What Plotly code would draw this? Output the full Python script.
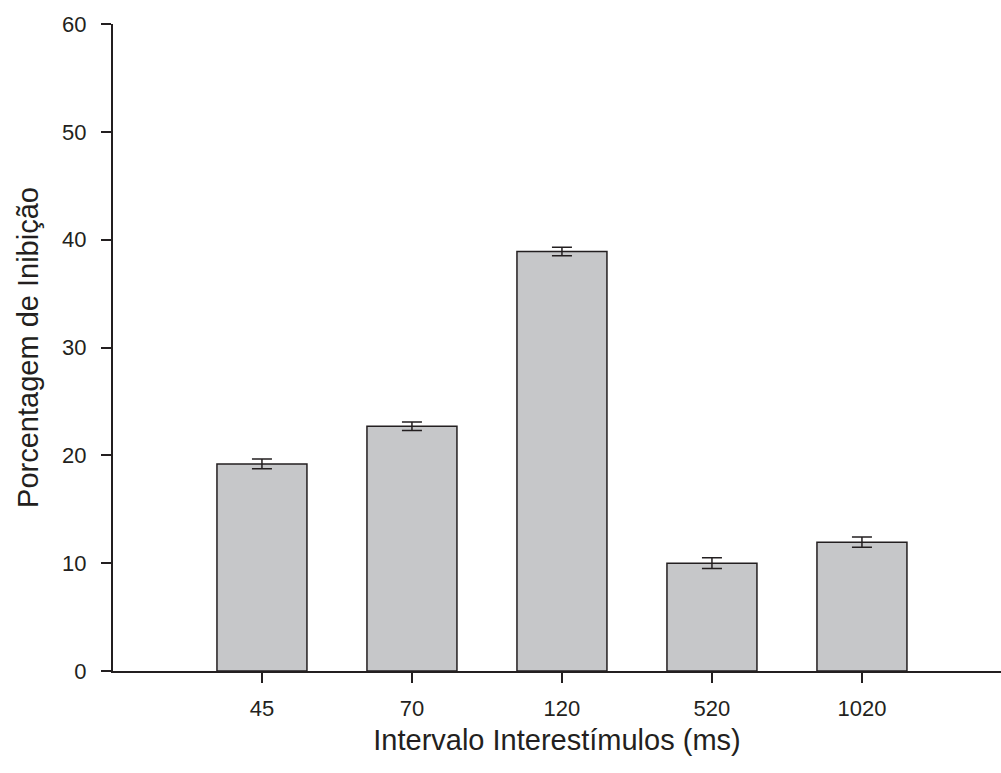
import plotly.graph_objects as go

categories = ["45", "70", "120", "520", "1020"]
values = [19.2, 22.7, 38.9, 10.0, 11.95]
errors = [0.45, 0.4, 0.4, 0.5, 0.47]

fig = go.Figure()
fig.add_trace(go.Bar(
    x=list(range(len(categories))), y=values,
    width=0.6,
    marker=dict(color="#c6c7c9", line=dict(color="#231f20", width=1.5)),
    error_y=dict(type="data", array=errors, visible=True, color="#231f20", thickness=1.5, width=10),
))

fig.update_layout(
    width=1001, height=773,
    margin=dict(l=113, r=0, t=24, b=102),
    plot_bgcolor="white", paper_bgcolor="white",
    showlegend=False,
    font=dict(family="Liberation Sans, Arial, sans-serif", color="#231f20"),
)
fig.update_xaxes(
    range=[-0.993, 4.927],
    tickmode="array", tickvals=list(range(len(categories))), ticktext=categories,
    ticks="outside", ticklen=10, tickwidth=1.5, tickcolor="#231f20",
    showline=True, linecolor="#231f20", linewidth=2,
    showgrid=False, zeroline=False,
    tickfont=dict(size=22), ticklabelstandoff=7,
    title=dict(text="Intervalo Interestímulos (ms)", font=dict(size=29), standoff=9),
)
fig.update_yaxes(
    range=[0, 60], tickvals=[0, 10, 20, 30, 40, 50, 60],
    ticks="outside", ticklen=10, tickwidth=1.5, tickcolor="#231f20",
    showline=True, linecolor="#231f20", linewidth=2,
    showgrid=False, zeroline=False,
    tickfont=dict(size=22), ticklabelstandoff=10,
    title=dict(text="Porcentagem de Inibição", font=dict(size=29), standoff=15),
)
fig.write_html("out.html")
